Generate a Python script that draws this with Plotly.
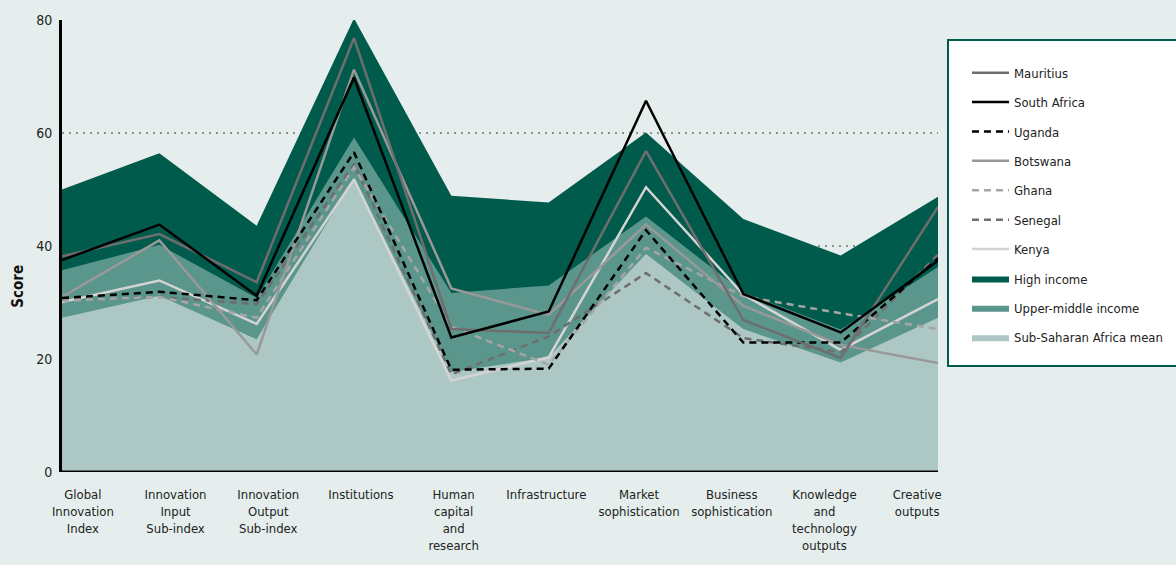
import plotly.graph_objects as go

# GII pillars (x axis)
categories = ["Global<br>Innovation<br>Index", "Innovation<br>Input<br>Sub-index",
              "Innovation<br>Output<br>Sub-index", "Institutions",
              "Human<br>capital<br>and<br>research", "Infrastructure",
              "Market<br>sophistication", "Business<br>sophistication",
              "Knowledge<br>and<br>technology<br>outputs", "Creative<br>outputs"]

# group benchmarks (areas)
high_income = [50.0, 56.4, 43.6, 80.3, 48.9, 47.7, 60.1, 44.8, 38.3, 48.7]
upper_middle = [35.7, 40.2, 30.8, 59.2, 31.7, 33.0, 45.2, 31.8, 25.2, 36.3]
ssa_mean = [27.3, 31.2, 23.5, 52.0, 17.7, 20.3, 38.6, 25.3, 19.4, 27.3]

# countries (lines)
mauritius = [38.2, 42.1, 33.6, 76.8, 25.3, 24.6, 56.8, 26.9, 20.2, 46.9]
south_africa = [37.5, 43.8, 31.2, 69.8, 23.8, 28.4, 65.7, 31.5, 24.7, 37.4]
uganda = [30.8, 31.9, 30.4, 56.6, 18.1, 18.3, 42.8, 22.9, 22.9, 37.8]
botswana = [31.0, 41.0, 20.8, 71.2, 32.5, 27.8, 43.8, 29.4, 22.5, 19.3]
ghana = [30.3, 31.0, 27.3, 53.9, 25.7, 19.0, 39.7, 31.1, 28.1, 25.3]
senegal = [30.4, 31.0, 29.7, 54.5, 17.3, 24.0, 35.2, 23.7, 21.2, 38.5]
kenya = [30.1, 33.9, 26.2, 51.8, 16.2, 20.3, 50.4, 31.4, 21.6, 30.6]

xs = list(range(len(categories)))
FONT = "DejaVu Sans Condensed, Liberation Sans Narrow, Roboto, sans-serif"

fig = go.Figure()

# areas, drawn from the top one down so the lower ones sit on top
areas = [("High income", high_income, "#005b4c", 8),
         ("Upper-middle income", upper_middle, "#5a968b", 9),
         ("Sub-Saharan Africa mean", ssa_mean, "#adc8c4", 10)]
for name, vals, col, rank in areas:
    fig.add_trace(go.Scatter(x=xs, y=vals, name=name, mode="lines", fill="tozeroy",
                             fillcolor=col, line=dict(width=0, color=col),
                             legendrank=rank, legendgroup=name, hoverinfo="skip"))

lines = [("Kenya", kenya, "#d4d4d4", "solid", 7),
         ("Senegal", senegal, "#6e6e6e", "7px,5px", 6),
         ("Ghana", ghana, "#a6a6a6", "7px,5px", 5),
         ("Botswana", botswana, "#999999", "solid", 4),
         ("Uganda", uganda, "#000000", "7px,5px", 3),
         ("Mauritius", mauritius, "#6e6e6e", "solid", 1),
         ("South Africa", south_africa, "#000000", "solid", 2)]
for name, vals, col, dash, rank in lines:
    fig.add_trace(go.Scatter(x=xs, y=vals, name=name, mode="lines",
                             line=dict(width=2.5, color=col, dash=dash),
                             legendrank=rank, legendgroup=name))

# invisible trace so the label axis gets drawn
fig.add_trace(go.Scatter(x=[0, 9], y=[None, None], xaxis="x2", showlegend=False,
                         hoverinfo="skip"))

fig.update_layout(
    width=1176, height=565,
    margin=dict(l=62, r=238, t=20, b=93, autoexpand=False),
    paper_bgcolor="#e5eeed", plot_bgcolor="#e5eeed",
    font=dict(family=FONT, size=13, color="#222222"),
    showlegend=True,
    legend=dict(x=1.0114, xanchor="left", y=0.9469, yanchor="top",
                bgcolor="rgba(0,0,0,0)", bordercolor="rgba(0,0,0,0)", borderwidth=2,
                tracegroupgap=9.5, font=dict(size=13, color="#222222"),
                indentation=17, itemwidth=37,
                title=dict(text=" ", font=dict(size=9))),
    xaxis=dict(range=[0, 9], showticklabels=False, showgrid=False, zeroline=False,
               showline=False),
    xaxis2=dict(range=[-0.225, 9.225], overlaying="x", anchor="y", side="bottom",
                tickvals=xs, ticktext=categories, showgrid=False, zeroline=False,
                showline=False, ticks="", ticklabelstandoff=13,
                tickfont=dict(size=13, color="#222222")),
    yaxis=dict(range=[0, 80], tickvals=[0, 20, 40, 60, 80], showgrid=True,
               gridcolor="#8f8f8f", griddash="2px,5px", gridwidth=1.5, zeroline=False,
               showline=True, linecolor="black", linewidth=3, ticks="",
               ticklabelstandoff=4, tickfont=dict(size=14, color="#222222")),
    annotations=[dict(text="<b>Score</b>", textangle=-90, x=-0.0502, y=0.41,
                      xref="paper", yref="paper", xanchor="center", yanchor="middle",
                      showarrow=False, font=dict(size=15, color="#111111"))],
    shapes=[dict(type="line", xref="paper", yref="y", x0=0, x1=1, y0=0, y1=0,
                 line=dict(color="black", width=3), layer="above"),
            # legend box, runs off the right edge like the original
            dict(type="rect", xref="paper", yref="paper", x0=1.0114, x1=1.2763,
                 y0=0.2345, y1=0.9558, fillcolor="white",
                 line=dict(color="#005b4c", width=2), layer="above")],
)

fig.write_html("out.html", config={"displayModeBar": False},
               post_script="document.body.style.margin='0px';")
